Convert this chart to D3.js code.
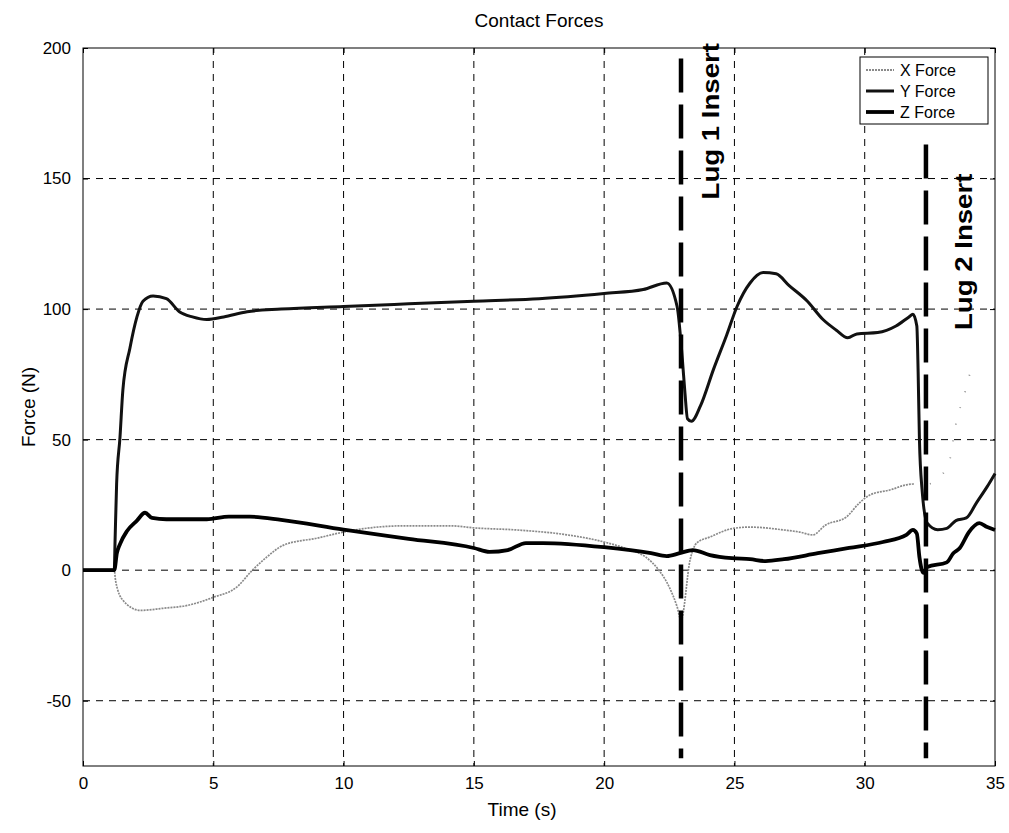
<!DOCTYPE html>
<html>
<head>
<meta charset="utf-8">
<script src="https://cdn.jsdelivr.net/npm/d3@7"></script>
<style>
  body { margin: 0; background: #fff; }
  text { font-family: "Liberation Sans", Arial, sans-serif; }
</style>
</head>
<body>
<div id="chart"></div>
<script>
// data: [time s, force N]
const xForce = [[0,0],[1.2,0],[1.25,-4],[1.53,-11.5],[2.2,-15.4],[3.07,-14.6],[4.0,-13.5],[5.0,-10.4],[5.9,-6.5],[6.5,0],[7.05,5],[7.7,9.6],[9.0,12.3],[10,14.6],[11,16.2],[12.4,17],[14.1,17],[15,16.2],[16.65,15.4],[18.6,13.5],[20,10.8],[21,7.7],[21.6,5],[22.1,0],[22.5,-6.5],[22.8,-14],[22.95,-19],[23.3,4],[23.55,10.4],[24.06,12.7],[24.95,16],[25.6,16.5],[26.9,15.4],[27.5,14.6],[28.0,13.5],[28.5,17.3],[29.3,20.4],[29.8,25.8],[30.2,28.8],[31.0,30.8],[31.6,32.7],[31.85,33]];
const xForceTail = [[31.85,33],[32.4,33],[33.2,40],[33.5,56],[33.9,70],[34.1,78]];
const yForce = [[0,0],[1.2,0],[1.23,11],[1.29,33],[1.42,51],[1.53,69],[1.8,85],[2.07,97],[2.3,103],[2.69,105],[3.2,104],[3.7,99],[4.2,97],[4.75,96],[5.4,97],[6.3,99],[7.6,100],[10,101],[12.5,102],[15,103],[17.5,104],[20,106],[21.5,107.5],[22.4,110],[22.8,101],[23.0,81],[23.1,68],[23.2,58],[23.35,57],[23.7,63],[24.2,77],[24.7,90],[25.1,101],[25.6,110],[26.1,114],[26.6,113.5],[27.1,109],[27.8,103],[28.4,96],[28.9,92],[29.35,89],[29.7,90.5],[30.5,91],[31.2,93.5],[31.7,97],[31.85,98],[32.0,93.5],[32.05,76],[32.1,50],[32.2,31],[32.4,18],[32.8,15.5],[33.15,16],[33.5,19],[33.9,20],[34.3,26],[34.7,32],[35,37]];
const zForce = [[0,0],[1.2,0],[1.3,6.5],[1.42,10],[1.69,15],[2.07,19],[2.38,22],[2.65,20],[3.2,19.5],[4.75,19.5],[5.6,20.5],[6.4,20.5],[7.6,19.3],[10,15.5],[12.5,12],[15,8.5],[15.6,7],[16.3,7.7],[17,10.4],[17.65,10.4],[20,8.8],[21.8,6.5],[22.4,5.4],[22.9,6.5],[23.4,7.7],[24.06,5.8],[24.9,4.6],[25.6,4.2],[26.2,3.5],[26.9,4.2],[28.2,6.5],[29.4,8.5],[30.7,10.8],[31.6,13.5],[31.85,15.4],[32.0,14],[32.1,5],[32.25,-1],[32.4,1.2],[33.15,3],[33.4,6.5],[33.65,8.5],[34.0,14.6],[34.4,18],[34.7,16.5],[35,15.4]];

const xTicks = [0, 5, 10, 15, 20, 25, 30, 35];
const yTicks = [-50, 0, 50, 100, 150, 200];
const legendNames = ["X Force", "Y Force", "Z Force"];
const lugs = [{ t: 22.95, top: 196, label: "Lug 1 Insert", textFrom: 142 }, { t: 32.35, top: 163, label: "Lug 2 Insert", textFrom: 92 }];

const W = 1009, H = 833;
const margin = { top: 48, right: 14, bottom: 67, left: 83 },
  width = W - margin.left - margin.right,
  height = H - margin.top - margin.bottom;

const root = d3.select("#chart").append("svg")
  .attr("width", W)
  .attr("height", H);

const svg = root.append("g")
  .attr("transform", `translate(${margin.left},${margin.top})`);

const x = d3.scaleLinear().domain([0, 35]).range([0, width]);
const y = d3.scaleLinear().domain([-75, 200]).range([height, 0]);

// grid
svg.append("g").selectAll("line").data(xTicks.slice(1, -1)).join("line")
  .attr("x1", d => x(d)).attr("x2", d => x(d))
  .attr("y1", 0).attr("y2", height)
  .attr("stroke", "#000").attr("stroke-width", 1)
  .attr("stroke-dasharray", "7,6");
svg.append("g").selectAll("line").data(yTicks.slice(0, -1)).join("line")
  .attr("x1", 0).attr("x2", width)
  .attr("y1", d => y(d)).attr("y2", d => y(d))
  .attr("stroke", "#000").attr("stroke-width", 1)
  .attr("stroke-dasharray", "7,6");

// axes
svg.append("g")
  .attr("transform", `translate(0,${height})`)
  .call(d3.axisBottom(x).tickValues(xTicks).tickSize(-5).tickPadding(11).tickFormat(d => String(d)))
  .call(g => g.select(".domain").remove())
  .selectAll("text").style("font-size", "17px").attr("fill", "#000");

svg.append("g")
  .call(d3.axisLeft(y).tickValues(yTicks).tickSize(-5).tickPadding(12).tickFormat(d => String(d)))
  .call(g => g.select(".domain").remove())
  .selectAll("text").style("font-size", "17px").attr("fill", "#000");

svg.append("g")
  .call(d3.axisTop(x).tickValues(xTicks).tickSize(-5).tickFormat(""))
  .call(g => g.select(".domain").remove());
svg.append("g")
  .attr("transform", `translate(${width},0)`)
  .call(d3.axisRight(y).tickValues(yTicks).tickSize(-5).tickFormat(""))
  .call(g => g.select(".domain").remove());

svg.append("rect")
  .attr("width", width).attr("height", height)
  .attr("fill", "none").attr("stroke", "#000").attr("stroke-width", 1);

const line = d3.line().x(d => x(d[0])).y(d => y(d[1])).curve(d3.curveMonotoneX);

svg.append("path").datum(xForce)
  .attr("d", line).attr("fill", "none")
  .attr("stroke", "#8a8a8a").attr("stroke-width", 1.7)
  .attr("stroke-dasharray", "2,1");
svg.append("path").datum(xForceTail)
  .attr("d", line).attr("fill", "none")
  .attr("stroke", "#8a8a8a").attr("stroke-width", 1.7)
  .attr("stroke-dasharray", "1,16");
svg.append("path").datum(yForce)
  .attr("d", line).attr("fill", "none")
  .attr("stroke", "#111").attr("stroke-width", 3)
  .attr("stroke-linejoin", "round");
svg.append("path").datum(zForce)
  .attr("d", line).attr("fill", "none")
  .attr("stroke", "#000").attr("stroke-width", 3.8)
  .attr("stroke-linejoin", "round");

// lug insert markers
lugs.forEach(function (l, i) {
  svg.append("line")
    .attr("x1", x(l.t)).attr("x2", x(l.t))
    .attr("y1", y(l.top)).attr("y2", y(-72))
    .attr("stroke", "#000").attr("stroke-width", 4.5)
    .attr("stroke-dasharray", "34,12");
  svg.append("text")
    .text(l.label)
    .attr("transform", `translate(${x(l.t) + 38 + i * 8},${y(l.textFrom)}) rotate(-90) scale(1.2,1)`)
    .style("font-size", "23px").style("font-weight", "bold");
});

// legend
const legend = svg.append("g").attr("transform", `translate(${width - 135},9)`);
legend.append("rect")
  .attr("width", 128).attr("height", 67)
  .attr("fill", "#fff").attr("stroke", "#000").attr("stroke-width", 1);
const legendStyle = [
  { color: "#8a8a8a", w: 2.2, dash: "2,1" },
  { color: "#111", w: 3, dash: null },
  { color: "#000", w: 3.8, dash: null }
];
legendNames.forEach(function (name, i) {
  legend.append("line")
    .attr("x1", 6).attr("x2", 34)
    .attr("y1", 13 + i * 21).attr("y2", 13 + i * 21)
    .attr("stroke", legendStyle[i].color)
    .attr("stroke-width", legendStyle[i].w)
    .attr("stroke-dasharray", legendStyle[i].dash);
  legend.append("text")
    .text(name)
    .attr("x", 40).attr("y", 13 + i * 21)
    .attr("dy", "0.35em")
    .style("font-size", "16px");
});

// titles
root.append("text")
  .text("Contact Forces")
  .attr("x", margin.left + width / 2).attr("y", 27)
  .attr("text-anchor", "middle")
  .style("font-size", "19px");

root.append("text")
  .text("Time (s)")
  .attr("x", 522).attr("y", 816)
  .attr("text-anchor", "middle")
  .style("font-size", "19px");

root.append("text")
  .text("Force (N)")
  .attr("transform", `translate(35,${margin.top + y(62.5)}) rotate(-90)`)
  .attr("text-anchor", "middle")
  .style("font-size", "19px");
</script>
</body>
</html>
